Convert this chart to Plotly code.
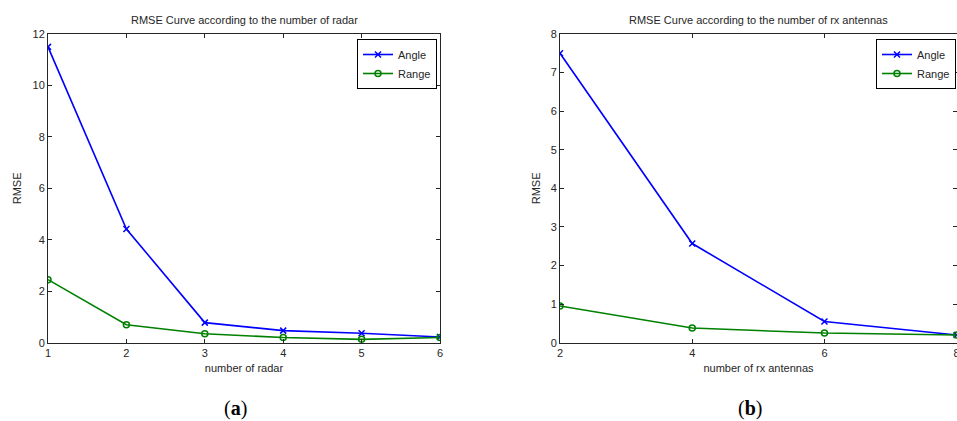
import plotly.graph_objects as go

# Panel (a)
radar_x = [1, 2, 3, 4, 5, 6]
radar_angle = [11.5, 4.42, 0.78, 0.47, 0.37, 0.22]
radar_range = [2.45, 0.70, 0.35, 0.20, 0.13, 0.20]

# Panel (b)
rx_x = [2, 4, 6, 8]
rx_angle = [7.5, 2.57, 0.55, 0.20]
rx_range = [0.95, 0.38, 0.25, 0.20]

W, H = 957, 421
BLUE = "#0000ff"
GREEN = "#008000"
FONT = "Liberation Sans, Arial, sans-serif"
TXT = "#262626"

fig = go.Figure()

def add(x, y, name, color, symbol, xa, ya, legend):
    fig.add_trace(go.Scatter(
        x=x, y=y, name=name, mode="lines+markers",
        line=dict(color=color, width=1.6),
        marker=dict(symbol=symbol, size=6, color=color,
                    line=dict(color=color, width=1.5)),
        xaxis=xa, yaxis=ya, legend=legend))

add(radar_x, radar_angle, "Angle", BLUE, "x-thin", "x", "y", "legend")
add(radar_x, radar_range, "Range", GREEN, "circle-open", "x", "y", "legend")
add(rx_x, rx_angle, "Angle", BLUE, "x-thin", "x2", "y2", "legend2")
add(rx_x, rx_range, "Range", GREEN, "circle-open", "x2", "y2", "legend2")

ybot = 1 - 342.7 / H
ytop = 1 - 34 / H

axis_common = dict(showline=True, linecolor="#262626", linewidth=1,
                   mirror="ticks", ticks="inside", ticklen=4,
                   tickcolor="#262626", showgrid=False, zeroline=False,
                   automargin=False, ticklabeloverflow="allow",
                   tickfont=dict(family=FONT, size=11, color=TXT))

leg_common = dict(yanchor="top", xanchor="right", bordercolor="black",
                  borderwidth=1, bgcolor="white",
                  font=dict(size=11, color=TXT), tracegroupgap=0,
                  itemwidth=30)

fig.update_layout(
    template="none",
    width=W, height=H, margin=dict(l=0, r=0, t=0, b=0, autoexpand=False),
    paper_bgcolor="white", plot_bgcolor="white",
    font=dict(family=FONT, size=11, color=TXT),
    xaxis=dict(domain=[48 / W, 440 / W], range=[1, 6], tickvals=radar_x,
               title=dict(text="number of radar", font=dict(size=11), standoff=6),
               anchor="y", **axis_common),
    yaxis=dict(domain=[ybot, ytop], range=[0, 12], tickvals=[0, 2, 4, 6, 8, 10, 12],
               title=dict(text="RMSE", font=dict(size=11), standoff=8),
               anchor="x", **axis_common),
    xaxis2=dict(domain=[560 / W, 1.0], range=[2, 8.005], tickvals=[2, 4, 6, 8],
                title=dict(text="number of rx antennas", font=dict(size=11), standoff=6),
                anchor="y2", **axis_common),
    yaxis2=dict(domain=[ybot, ytop], range=[0, 8], tickvals=list(range(9)),
                title=dict(text="RMSE", font=dict(size=11), standoff=7),
                anchor="x2", **axis_common),
    legend=dict(x=437 / W, y=1 - 39 / H, **leg_common),
    legend2=dict(x=956 / W, y=1 - 39 / H, **leg_common),
    annotations=[
        dict(text="RMSE Curve according to the number of radar", x=(48 + 440) / 2 / W,
             y=1 - 20 / H, xref="paper", yref="paper", showarrow=False,
             font=dict(size=11, color=TXT), xanchor="center", yanchor="middle"),
        dict(text="RMSE Curve according to the number of rx antennas", x=(560 + 957) / 2 / W,
             y=1 - 20 / H, xref="paper", yref="paper", showarrow=False,
             font=dict(size=11, color=TXT), xanchor="center", yanchor="middle"),
        dict(text="(<b>a</b>)", x=235 / W, y=1 - 408 / H, xref="paper", yref="paper",
             showarrow=False, font=dict(family="Liberation Serif, DejaVu Serif, serif", size=20, color="black"),
             xanchor="center", yanchor="middle"),
        dict(text="(<b>b</b>)", x=750 / W, y=1 - 408 / H, xref="paper", yref="paper",
             showarrow=False, font=dict(family="Liberation Serif, DejaVu Serif, serif", size=20, color="black"),
             xanchor="center", yanchor="middle"),
    ],
)

fig.write_html("out.html")
